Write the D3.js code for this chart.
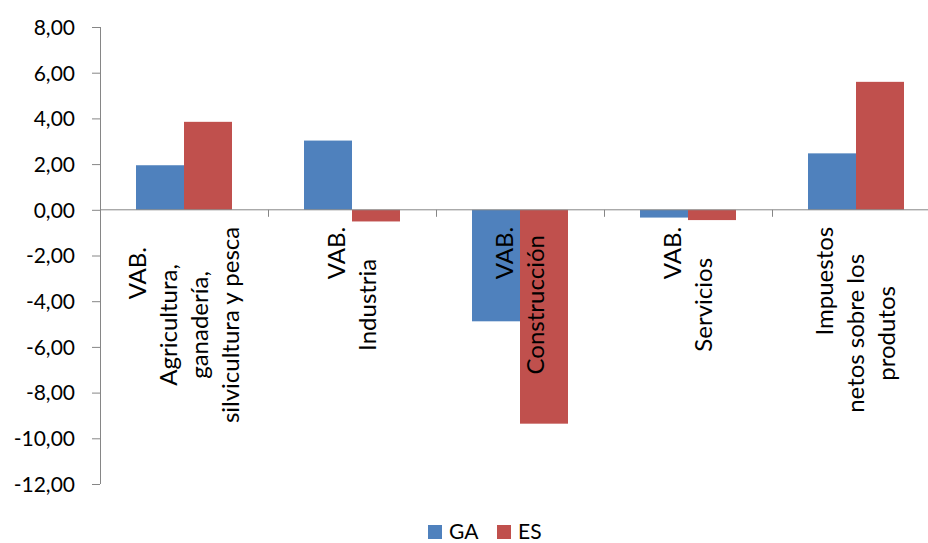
<!DOCTYPE html>
<html>
<head>
<meta charset="utf-8">
<script src="https://cdn.jsdelivr.net/npm/d3@7"></script>
<style>
  html, body { margin: 0; padding: 0; background: #fff; }
  svg { display: block; }
  text { font-family: Lato, "Open Sans", sans-serif; fill: #000; }
</style>
</head>
<body>
<svg id="chart" width="928" height="543"></svg>
<script>
// ---- data ----
const categories = ["agri", "ind", "cons", "serv", "imp"];
const categoryLabels = [
  ["\u00a0".repeat(17) + "VAB.", "Agricultura,", "ganadería,", "silvicultura y pesca"],
  ["\u00a0".repeat(17) + "VAB.", "Industria"],
  ["\u00a0".repeat(17) + "VAB.", "Construcción"],
  ["\u00a0".repeat(17) + "VAB.", "Servicios"],
  ["\u00a0".repeat(17) + "Impuestos", "netos sobre los", "produtos"]
];
const seriesNames = ["GA", "ES"];
const gaValues = [1.95, 3.03, -4.88, -0.34, 2.47];
const esValues = [3.85, -0.51, -9.36, -0.45, 5.60];
const yTicks = [8, 6, 4, 2, 0, -2, -4, -6, -8, -10, -12];
const colors = ["#4F81BD", "#C0504D"];

const seriesValues = [gaValues, esValues];
const fmt = v => d3.format(".2f")(v).replace("−", "-").replace(".", ",");

const svg = d3.select("#chart");
const mLeft = 100, mRight = 940, mTop = 27, mBottom = 484;

const y = d3.scaleLinear().domain([-12, 8]).range([mBottom, mTop]);
const x0 = d3.scaleBand().domain(categories).range([mLeft, mRight]).paddingInner(0).paddingOuter(0);
const x1 = d3.scaleBand().domain(seriesNames).range([0, x0.bandwidth()]).paddingInner(0).paddingOuter(0.75);

const axisColor = "#868686";

// bars
categories.forEach((c, i) => {
  const g = svg.append("g").attr("transform", `translate(${x0(c)},0)`);
  seriesNames.forEach((s, j) => {
    const v = seriesValues[j][i];
    g.append("rect")
      .attr("x", x1(s))
      .attr("width", x1.bandwidth())
      .attr("y", y(Math.max(0, v)))
      .attr("height", Math.abs(y(v) - y(0)))
      .attr("fill", colors[j]);
  });
});

// y axis
const yAxis = d3.axisLeft(y).tickValues(yTicks).tickSize(8).tickPadding(17).tickFormat(fmt);
const gy = svg.append("g").attr("transform", `translate(${mLeft},0)`).call(yAxis);
gy.select(".domain").attr("stroke", axisColor).attr("d", `M0.5,${mTop}V${mBottom}`);
gy.selectAll(".tick line").attr("stroke", axisColor);
gy.selectAll(".tick text").style("font-size", "21px").attr("fill", "#000").attr("dy", "0.35em");

// x axis at zero
const gx = svg.append("g").attr("transform", `translate(0,${y(0)})`);
gx.append("line").attr("x1", mLeft).attr("x2", mRight).attr("stroke", axisColor);
const boundaries = categories.map(c => x0(c)).concat([x0(categories[categories.length - 1]) + x0.bandwidth()]);
gx.selectAll("line.tk").data(boundaries).enter().append("line")
  .attr("class", "tk")
  .attr("x1", d => d + 0.5).attr("x2", d => d + 0.5)
  .attr("y1", 0).attr("y2", 7).attr("stroke", axisColor);

// category labels (rotated, centered lines)
const blockTop = y(0) + 17;
const lineH = 31;
categories.forEach((c, i) => {
  const cx = x0(c) + x0.bandwidth() / 2;
  const lines = categoryLabels[i];
  const g = svg.append("g").attr("transform", `translate(${cx},0) rotate(-90)`);
  const texts = lines.map((ln, k) => g.append("text")
    .style("font-size", "24px")
    .style("white-space", "pre")
    .attr("text-anchor", "middle")
    .attr("y", (k - (lines.length - 1) / 2) * lineH + 8)
    .text(ln));
  const W = d3.max(texts, t => t.node().getComputedTextLength());
  texts.forEach(t => t.attr("x", -(blockTop + W / 2)));
});

// legend
const legend = svg.append("g").attr("transform", "translate(428,525)");
const legendX = [0, 69];
seriesNames.forEach((s, j) => {
  const lg = legend.append("g").attr("transform", `translate(${legendX[j]},0)`);
  lg.append("rect").attr("width", 14).attr("height", 14).attr("fill", colors[j]);
  lg.append("text").attr("x", 21).attr("y", 14).style("font-size", "21px").text(s);
});
</script>
</body>
</html>
